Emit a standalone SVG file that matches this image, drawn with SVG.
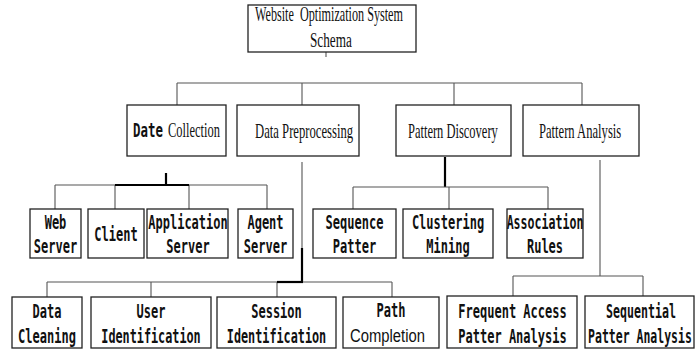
<svg xmlns="http://www.w3.org/2000/svg" width="696" height="350" viewBox="0 0 696 350">
  <style>
    .box { fill: #ffffff; stroke: #222222; stroke-width: 1.3; }
    .ln { fill: none; stroke: #555555; stroke-width: 1.1; }
    .bold { fill: none; stroke: #000000; stroke-width: 2.2; }
    .serif { font-family: "Liberation Serif", "Times New Roman", serif; font-size: 20px; fill: #111111; }
    .mono { font-family: "DejaVu Sans Mono", "Liberation Mono", monospace; font-weight: bold; font-size: 20px; fill: #111111; text-anchor: middle; }
    .sans { font-family: "Liberation Sans", Arial, sans-serif; font-size: 19px; fill: #111111; text-anchor: middle; }
  </style>
  <rect width="696" height="350" fill="#ffffff"/>

  <g id="connectors">
    <path class="ln" d="M326 52 V57"/>
    <path class="ln" d="M177 83 H582 M177 83 V105 M302 83 V105 M454 83 V105 M582 83 V105"/>
    <!-- Date Collection branch -->
    <path class="bold" d="M166 173 V185"/>
    <path class="ln" d="M55 185 H267 M55 185 V209 M115 185 V209 M189 185 V209 M267 185 V209"/>
    <path class="bold" d="M115 185 H189"/>
    <!-- Data Preprocessing branch -->
    <path class="ln" d="M302 162 V248"/>
    <path class="bold" d="M302 248 V282"/>
    <path class="ln" d="M47 282 H392 M47 282 V297 M151 282 V297 M277 282 V297 M392 282 V297"/>
    <path class="bold" d="M277 282 H303"/>
    <!-- Pattern Discovery branch -->
    <path class="bold" d="M445 157 V187"/>
    <path class="ln" d="M353 187 H548 M353 187 V210 M449 187 V210 M548 187 V210"/>
    <!-- Pattern Analysis branch -->
    <path class="ln" d="M600 160 V276 M513 276 H643 M513 276 V297 M643 276 V297"/>
  </g>

  <!-- condensed labels: serif text scaled to 0.62, mono text to 0.6 horizontally -->
  <g id="root">
    <rect class="box" x="248" y="5" width="168" height="47"/>
    <text class="serif" transform="translate(255 21) scale(0.608 1)" style="white-space:pre">Website  Optimization System</text>
    <text class="serif" transform="translate(310 47) scale(0.66 1)">Schema</text>
  </g>

  <g id="date-collection">
    <rect class="box" x="127" y="105" width="99" height="51"/>
    <text class="mono" transform="translate(148 137) scale(0.62 1)">Date</text>
    <text class="serif" transform="translate(168 137) scale(0.624 1)">Collection</text>
  </g>
  <g id="data-preprocessing">
    <rect class="box" x="237" y="105" width="122" height="51"/>
    <text class="serif" transform="translate(255 138) scale(0.634 1)">Data Preprocessing</text>
  </g>
  <g id="pattern-discovery">
    <rect class="box" x="396" y="105" width="115" height="51"/>
    <text class="serif" transform="translate(408 138) scale(0.625 1)">Pattern Discovery</text>
  </g>
  <g id="pattern-analysis">
    <rect class="box" x="523" y="105" width="116" height="51"/>
    <text class="serif" transform="translate(539 138) scale(0.63 1)">Pattern Analysis</text>
  </g>

  <g id="web-server">
    <rect class="box" x="30" y="209" width="51" height="49"/>
    <text class="mono" transform="translate(55.5 229) scale(0.6 1)">Web</text>
    <text class="mono" transform="translate(55.5 253) scale(0.6 1)">Server</text>
  </g>
  <g id="client">
    <rect class="box" x="88" y="209" width="56" height="49"/>
    <text class="mono" transform="translate(116 241) scale(0.6 1)">Client</text>
  </g>
  <g id="application-server">
    <rect class="box" x="147" y="209" width="81" height="49"/>
    <text class="mono" transform="translate(188 229) scale(0.6 1)">Application</text>
    <text class="mono" transform="translate(188 253) scale(0.6 1)">Server</text>
  </g>
  <g id="agent-server">
    <rect class="box" x="238" y="209" width="55" height="49"/>
    <text class="mono" transform="translate(265.5 229) scale(0.6 1)">Agent</text>
    <text class="mono" transform="translate(265.5 253) scale(0.6 1)">Server</text>
  </g>

  <g id="sequence-patter">
    <rect class="box" x="313" y="209" width="83" height="49"/>
    <text class="mono" transform="translate(354.5 229) scale(0.6 1)">Sequence</text>
    <text class="mono" transform="translate(354.5 253) scale(0.6 1)">Patter</text>
  </g>
  <g id="clustering-mining">
    <rect class="box" x="403" y="209" width="90" height="49"/>
    <text class="mono" transform="translate(448 229) scale(0.6 1)">Clustering</text>
    <text class="mono" transform="translate(448 253) scale(0.6 1)">Mining</text>
  </g>
  <g id="association-rules">
    <rect class="box" x="507" y="209" width="76" height="49"/>
    <text class="mono" transform="translate(545 229) scale(0.58 1)">Association</text>
    <text class="mono" transform="translate(545 253) scale(0.6 1)">Rules</text>
  </g>

  <g id="data-cleaning">
    <rect class="box" x="12" y="297" width="70" height="51"/>
    <text class="mono" transform="translate(47 318) scale(0.6 1)">Data</text>
    <text class="mono" transform="translate(47 343) scale(0.6 1)">Cleaning</text>
  </g>
  <g id="user-identification">
    <rect class="box" x="91" y="297" width="120" height="51"/>
    <text class="mono" transform="translate(151 318) scale(0.6 1)">User</text>
    <text class="mono" transform="translate(151 343) scale(0.59 1)">Identification</text>
  </g>
  <g id="session-identification">
    <rect class="box" x="217" y="297" width="119" height="51"/>
    <text class="mono" transform="translate(276.5 318) scale(0.6 1)">Session</text>
    <text class="mono" transform="translate(276.5 343) scale(0.59 1)">Identification</text>
  </g>
  <g id="path-completion">
    <rect class="box" x="343" y="297" width="96" height="51"/>
    <text class="mono" transform="translate(391 317) scale(0.6 1)">Path</text>
    <text class="sans" transform="translate(387.5 342) scale(0.78 1)">Completion</text>
  </g>
  <g id="frequent-access-patter-analysis">
    <rect class="box" x="447" y="296" width="130" height="52"/>
    <text class="mono" transform="translate(512.5 318) scale(0.6 1)">Frequent Access</text>
    <text class="mono" transform="translate(512.5 343) scale(0.6 1)">Patter Analysis</text>
  </g>
  <g id="sequential-patter-analysis">
    <rect class="box" x="585" y="296" width="109" height="52"/>
    <text class="mono" transform="translate(641 318) scale(0.58 1)">Sequential</text>
    <text class="mono" transform="translate(640 343) scale(0.575 1)">Patter Analysis</text>
  </g>
</svg>
